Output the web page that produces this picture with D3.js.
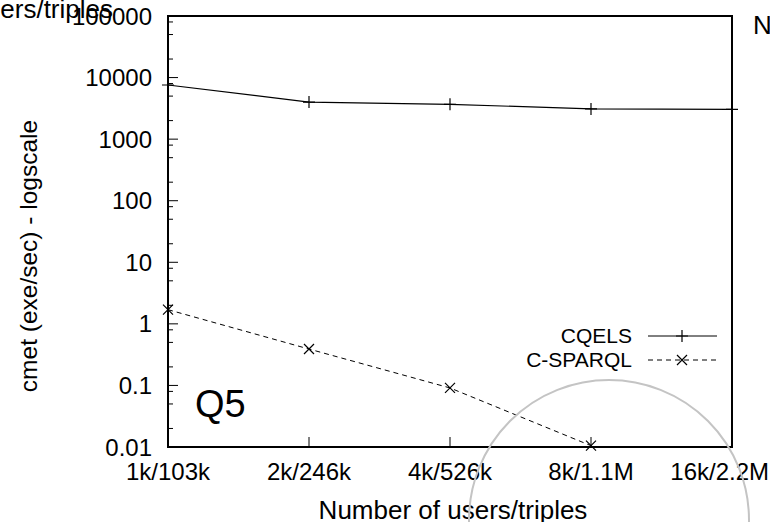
<!DOCTYPE html>
<html><head><meta charset="utf-8">
<script src="https://cdn.jsdelivr.net/npm/d3@7"></script>
<style>body{margin:0;background:#fff}svg{display:block}text{font-family:"Liberation Sans",Arial,sans-serif;fill:#000}</style>
</head><body><svg id="c" width="770" height="522"></svg>
<script>
const categories = ["1k/103k","2k/246k","4k/526k","8k/1.1M","16k/2.2M"];
const cqels = [7570, 4000, 3680, 3100, 3050];
const csparql = [1.7, 0.39, 0.091, 0.0105, null];
const yTicks = [0.01, 0.1, 1, 10, 100, 1000, 10000, 100000];
const yTickLabels = ["0.01","0.1","1","10","100","1000","10000","100000"];
const minorMult = [2, 5, 8];
const seriesNames = ["CQELS", "C-SPARQL"];

const svg = d3.select("#c");
const W = 770;
const L = 168, R = 732, T = 16, B = 447;
const x = d3.scalePoint().domain(categories).range([L, R]).padding(0);
const y = d3.scaleLog().domain([0.01, 100000]).range([B, T]);

// minor ticks
const minors = [];
yTicks.slice(0, -1).forEach(t => minorMult.forEach(m => minors.push(t * m)));
svg.append("g").selectAll("line").data(minors).join("line")
  .attr("x1", L).attr("x2", L + 5).attr("y1", d => y(d)).attr("y2", d => y(d))
  .attr("stroke", "#000").attr("stroke-width", 1);
svg.append("g").selectAll("line").data(yTicks).join("line")
  .attr("x1", L).attr("x2", L + 10).attr("y1", d => y(d)).attr("y2", d => y(d))
  .attr("stroke", "#000").attr("stroke-width", 1);
svg.append("g").selectAll("text").data(yTicks).join("text")
  .attr("x", L - 16).attr("y", d => y(d) + 8.6).attr("text-anchor", "end")
  .attr("font-size", 24).text((d, i) => yTickLabels[i]);

// x ticks
svg.append("g").selectAll("line").data(categories).join("line")
  .attr("x1", d => x(d)).attr("x2", d => x(d)).attr("y1", B).attr("y2", B - 10)
  .attr("stroke", "#000");
svg.append("g").selectAll("text").data(categories).join("text")
  .attr("x", d => x(d)).attr("y", 480).attr("text-anchor", "middle")
  .attr("font-size", 24).text(d => d)
  .each(function(d) {
    const w = this.getComputedTextLength();
    const cx = Math.min(x(d), W - 1 - w / 2);
    d3.select(this).attr("x", cx);
  });

// frame
svg.append("rect").attr("x", L).attr("y", T).attr("width", R - L).attr("height", B - T)
  .attr("fill", "none").attr("stroke", "#000").attr("stroke-width", 2);

// lines
const line = d3.line().defined(d => d[1] != null).x(d => x(d[0])).y(d => y(d[1]));
const cqPts = categories.map((c, i) => [c, cqels[i]]);
const csPts = categories.map((c, i) => [c, csparql[i]]);
svg.append("path").datum(cqPts).attr("d", line).attr("fill", "none").attr("stroke", "#000").attr("stroke-width", 1.2);
svg.append("path").datum(csPts).attr("d", line).attr("fill", "none").attr("stroke", "#000").attr("stroke-width", 1).attr("stroke-dasharray", "5,4");

function plus(g, cx, cy) {
  g.append("path").attr("d", `M${cx-6},${cy}H${cx+6}M${cx},${cy-6}V${cy+6}`).attr("stroke", "#000").attr("stroke-width", 1.2);
}
function cross(g, cx, cy) {
  g.append("path").attr("d", `M${cx-5},${cy-5}L${cx+5},${cy+5}M${cx-5},${cy+5}L${cx+5},${cy-5}`).attr("stroke", "#000").attr("stroke-width", 1.2);
}
const mk = svg.append("g");
cqPts.forEach(d => plus(mk, x(d[0]), y(d[1])));
csPts.filter(d => d[1] != null).forEach(d => cross(mk, x(d[0]), y(d[1])));

// legend
const lg = svg.append("g");
lg.append("text").attr("x", 632).attr("y", 343).attr("text-anchor", "end").attr("font-size", 21).text(seriesNames[0]);
lg.append("text").attr("x", 632).attr("y", 367).attr("text-anchor", "end").attr("font-size", 21).text(seriesNames[1]);
lg.append("line").attr("x1", 648).attr("x2", 717).attr("y1", 336).attr("y2", 336).attr("stroke", "#000");
plus(lg, 682, 336);
lg.append("line").attr("x1", 648).attr("x2", 717).attr("y1", 360).attr("y2", 360).attr("stroke", "#000").attr("stroke-dasharray", "5,4");
cross(lg, 682, 360);

// Q5
svg.append("text").attr("x", 195).attr("y", 417).attr("font-size", 38).text("Q5");

// axis titles
svg.append("text").attr("transform", "translate(37,256) rotate(-90)").attr("text-anchor", "middle")
  .attr("font-size", 24.5).text("cmet (exe/sec) - logscale");
svg.append("text").attr("x", 453).attr("y", 519).attr("text-anchor", "middle").attr("font-size", 26).text("Number of users/triples");
svg.append("text").attr("x", 113).attr("y", 18).attr("text-anchor", "end").attr("font-size", 26).text("Number of users/triples");
svg.append("text").attr("x", 753).attr("y", 34).attr("font-size", 26).text("Number of users/triples");

// circle overlay
svg.append("circle").attr("cx", 609).attr("cy", 520).attr("r", 140).attr("fill", "none").attr("stroke", "#c4c4c4").attr("stroke-width", 2);
</script></body></html>
